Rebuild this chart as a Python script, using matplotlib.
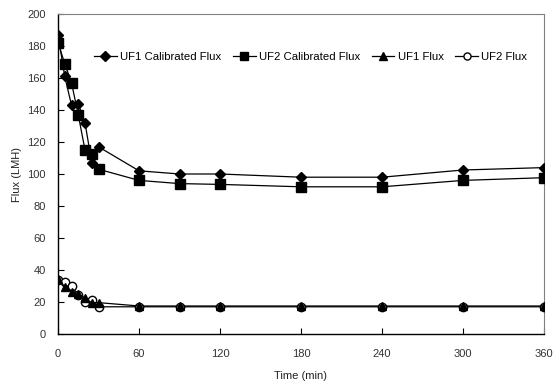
import matplotlib.pyplot as plt

plt.rcParams['font.family'] = ['Liberation Sans', 'DejaVu Sans']

# 时间点 (min)
time_min = [0, 5, 10, 15, 20, 25, 30, 60, 90, 120, 180, 240, 300, 360]

# 通量数据 (LMH)
uf1_cal = [187, 161, 143, 144, 132, 107, 117, 102, 100, 100, 98, 98, 102.5, 104]
uf2_cal = [182, 169, 157, 137, 115, 112.5, 103, 96, 94, 93.5, 92, 92, 96, 97.7]
uf1_flux = [34.5, 29.6, 26.4, 25, 22.5, 19.5, 19.6, 17.5, 17.5, 17.5, 17.5, 17.5, 17.5, 17.5]
uf2_flux = [34, 32.3, 30, 24.4, 20.2, 21.2, 17, 17, 17, 17, 17, 17, 17, 17]

fig = plt.figure(figsize=(5.53, 3.85), dpi=100)
ax = fig.add_axes([0.1049, 0.1325, 0.8788, 0.8311])

ax.plot(time_min, uf1_cal, color='black', lw=0.9, marker='D', ms=5.5,
        mfc='black', mec='black', label='UF1 Calibrated Flux', zorder=4)
ax.plot(time_min, uf2_cal, color='black', lw=0.9, marker='s', ms=6.5,
        mfc='black', mec='black', label='UF2 Calibrated Flux', zorder=3)
ax.plot(time_min, uf1_flux, color='black', lw=0.9, marker='^', ms=6,
        mfc='black', mec='black', label='UF1 Flux', zorder=4)
ax.plot(time_min, uf2_flux, color='black', lw=0.9, marker='o', ms=6,
        mfc='white', mec='black', label='UF2 Flux', zorder=3)

ax.set_xlim(0, 360)
ax.set_ylim(0, 200)
ax.set_xticks([0, 60, 120, 180, 240, 300, 360])
ax.set_yticks(range(0, 201, 20))
ax.tick_params(direction='in', length=4, width=0.8, labelcolor='#333333',
               labelsize=8)
ax.tick_params(axis='x', pad=11)
ax.tick_params(axis='y', pad=9)

for s in ['top', 'right']:
    ax.spines[s].set_color('#808080')
    ax.spines[s].set_linewidth(0.8)
for s in ['left', 'bottom']:
    ax.spines[s].set_color('black')
    ax.spines[s].set_linewidth(1.0)

ax.set_xlabel('Time (min)', fontsize=8, color='#222222')
ax.set_ylabel('Flux (LMH)', fontsize=8, color='#222222')
ax.xaxis.set_label_coords(0.5, -0.115)
ax.yaxis.set_label_coords(-0.074, 0.5)

ax.legend(loc='center', bbox_to_anchor=(0.52, 0.866), ncol=4, frameon=False,
          fontsize=8.2, handlelength=2.0, handletextpad=0.3, columnspacing=1.0,
          markerscale=0.85)

fig.savefig('out.png', dpi=100)
